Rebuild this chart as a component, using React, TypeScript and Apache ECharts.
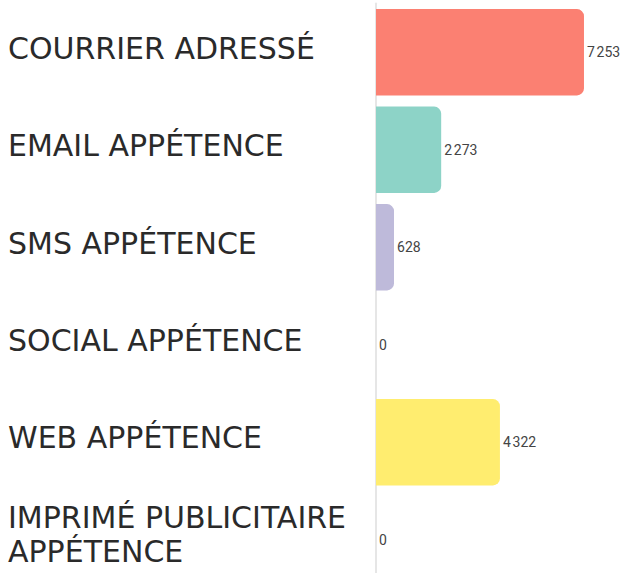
import React, { useEffect, useRef } from "react";
import * as echarts from "echarts";

const categories = [
  "COURRIER ADRESSÉ",
  "EMAIL APPÉTENCE",
  "SMS APPÉTENCE",
  "SOCIAL APPÉTENCE",
  "WEB APPÉTENCE",
  "IMPRIMÉ PUBLICITAIRE APPÉTENCE",
];
const values = [7253, 2273, 628, 0, 4322, 0];
const colors = ["#FB8072", "#8DD3C7", "#BEBADA", "#80B1D3", "#FFED6F", "#FDB462"];

const fmt = (v: number) => String(v).replace(/\B(?=(\d{3})+(?!\d))/g, "\u202F");

const hiddenX = {
  type: "value",
  min: 0,
  max: 8000,
  axisLine: { show: false },
  axisTick: { show: false },
  axisLabel: { show: false },
  splitLine: { show: false },
};

export default function App() {
  const ref = useRef<HTMLDivElement>(null);
  useEffect(() => {
    const chart = echarts.init(ref.current!, null, { renderer: "svg" });
    chart.setOption({
      animation: false,
      grid: [
        { left: 376, right: 17.6, top: 3.5, bottom: 11.5 },
        { left: 376, right: 17.6, top: -1.5, bottom: 16.5 },
      ],
      xAxis: [
        { ...hiddenX, gridIndex: 0 },
        { ...hiddenX, gridIndex: 1 },
      ],
      yAxis: [
        {
          type: "category",
          gridIndex: 0,
          inverse: true,
          data: categories,
          axisLine: { show: true, lineStyle: { color: "#e6e6e6", width: 2 } },
          axisTick: { show: false },
          axisLabel: { show: false },
        },
        {
          type: "category",
          gridIndex: 1,
          inverse: true,
          data: categories,
          axisLine: { show: false },
          axisTick: { show: false },
          axisLabel: {
            align: "left",
            margin: 368,
            fontFamily: "DejaVu Sans",
            fontSize: 30,
            color: "#2a2a2a",
            width: 362,
            overflow: "break",
            lineHeight: 34,
          },
        },
      ],
      series: [
        {
          type: "bar",
          xAxisIndex: 0,
          yAxisIndex: 0,
          data: values.map((v, i) => ({ value: v, itemStyle: { color: colors[i] } })),
          barCategoryGap: "11.5%",
          itemStyle: { borderRadius: [0, 7, 7, 0] },
          label: {
            show: true,
            position: "right",
            distance: 3,
            fontSize: 14,
            fontFamily: "Roboto",
            color: "#444",
            formatter: (p: any) => fmt(p.value),
          },
        },
      ],
    });
    return () => chart.dispose();
  }, []);
  return (
    <div
      ref={ref}
      style={{ position: "absolute", left: 0, top: 0, width: 623, height: 600 }}
    />
  );
}
